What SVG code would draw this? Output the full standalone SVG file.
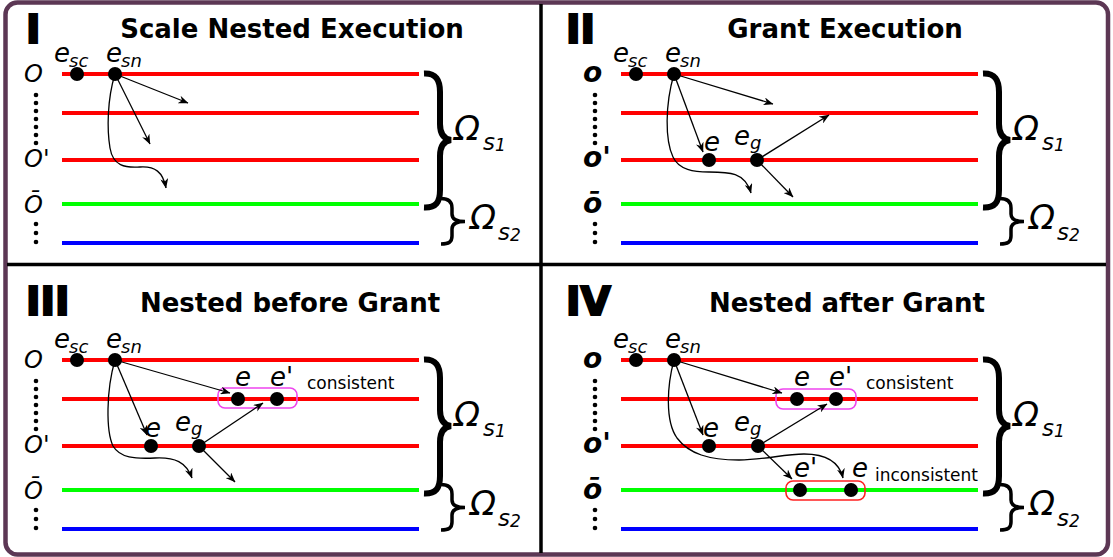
<svg xmlns="http://www.w3.org/2000/svg" width="1113" height="557" viewBox="0 0 1113 557">
<style>
.lane{stroke-width:4;fill:none}
.red{stroke:#ff0000}.green{stroke:#00ff00}.blue{stroke:#0000ff}
.dot{fill:#000}
.sdot{fill:#000}
.arr{fill:none;stroke:#000;stroke-width:1.3;marker-end:url(#ah)}
.lbl{font-family:"DejaVu Sans",sans-serif;font-style:italic;font-size:26px;fill:#000}
.sub{font-size:18px}
.title{font-family:"DejaVu Sans",sans-serif;font-weight:bold;font-size:26px;text-anchor:middle;fill:#000}
.num{font-family:"DejaVu Sans",sans-serif;font-weight:bold;font-size:39px;fill:#000;stroke:#000;stroke-width:2.2}
.side{font-family:"DejaVu Sans",sans-serif;font-style:italic;font-size:24px;fill:#000}
.sideb{font-family:"DejaVu Sans",sans-serif;font-style:italic;font-weight:bold;font-size:28px;fill:#000}
.bigbrace{fill:none;stroke:#000;stroke-width:6}
.smallbrace{fill:none;stroke:#000;stroke-width:3.5}
.omega{font-family:"DejaVu Sans",sans-serif;font-style:italic;font-size:34px;fill:#000}
.note{font-family:"DejaVu Sans",sans-serif;font-size:17px;fill:#000}
.mbox{fill:none;stroke:#ee44ee;stroke-width:1.6}
.rbox{fill:none;stroke:#ff2020;stroke-width:1.6}
.div{stroke:#000;stroke-width:3.5}
</style>
<defs>
<marker id="ah" viewBox="0 0 10 8" refX="9.5" refY="4" markerWidth="10" markerHeight="8" markerUnits="userSpaceOnUse" orient="auto"><path d="M0,0 L10,4 L0,8 L3,4 Z" fill="#000"/></marker>
<g id="lanes">
<line class="lane red" x1="62" y1="74" x2="419" y2="74"/>
<line class="lane red" x1="62" y1="113" x2="419" y2="113"/>
<line class="lane red" x1="62" y1="160" x2="419" y2="160"/>
<line class="lane green" x1="62" y1="204" x2="419" y2="204"/>
<line class="lane blue" x1="62" y1="243" x2="419" y2="243"/>
</g>
<g id="vdots">
<circle class="sdot" cx="36" cy="95" r="2.3"/><circle class="sdot" cx="36" cy="103" r="2.3"/><circle class="sdot" cx="36" cy="111" r="2.3"/><circle class="sdot" cx="36" cy="119" r="2.3"/><circle class="sdot" cx="36" cy="127" r="2.3"/><circle class="sdot" cx="36" cy="135" r="2.3"/><circle class="sdot" cx="36" cy="143" r="2.3"/>
<circle class="sdot" cx="36" cy="224" r="2.3"/><circle class="sdot" cx="36" cy="233" r="2.3"/><circle class="sdot" cx="36" cy="242" r="2.3"/>
</g>
<g id="braces">
<path class="bigbrace" d="M424,73.5 C436,73 440,80 440,92 L440,124 C440,134 444,139 451,140 C444,141 440,146 440,156 L440,190 C440,202 436,208 424,207.5"/>
<path class="smallbrace" d="M441,198.5 C449,198.5 452,202 452,208 L452,214 C452,219 456,221.5 465,221.5 C456,221.5 452,224 452,229 L452,236 C452,242 449,244 441,244"/>
<text class="omega" x="454" y="140">Ω<tspan font-size="23" x="483" y="150">s</tspan><tspan font-size="17" x="495" y="151">1</tspan></text>
<text class="omega" x="470" y="229">Ω<tspan font-size="23" x="498" y="240">s</tspan><tspan font-size="17" x="510" y="241">2</tspan></text>
</g>
</defs>

<rect x="0" y="0" width="1113" height="557" fill="#ffffff"/>
<rect x="5.5" y="2.5" width="1102.5" height="552" rx="12" ry="12" fill="#ffffff" stroke="#5c3754" stroke-width="4.5"/>
<line class="div" x1="541" y1="4" x2="541" y2="553"/>
<line class="div" x1="7" y1="264.5" x2="1106" y2="264.5"/>

<!-- Panel I -->
<g id="panel1">
<text class="num" x="26" y="43">I</text>
<text class="title" x="292" y="38">Scale Nested Execution</text>
<use href="#lanes"/>
<use href="#vdots"/>
<text class="side" x="24" y="82">O</text>
<text class="side" x="24" y="167">O'</text>
<text class="side" x="24" y="213">Ō</text>
<use href="#braces"/>
<g id="p1-connectors">
<path class="arr" d="M115,74 L188,103"/>
<path class="arr" d="M115,74 L150,144"/>
<path class="arr" d="M115,74 C107,100 107,130 110,148 C113,166 125,168 140,167 C155,166 163,172 166,188"/>
</g>
<g id="p1-esc"><circle class="dot" cx="77" cy="74" r="7"/><text class="lbl" x="54" y="62">e<tspan class="sub" x="69" y="67">sc</tspan></text></g>
<g id="p1-esn"><circle class="dot" cx="115" cy="74" r="7"/><text class="lbl" x="106" y="62">e<tspan class="sub" x="121" y="67">sn</tspan></text></g>
</g>

<!-- Panel II -->
<g id="panel2">
<text class="num" x="566" y="43">II</text>
<text class="title" x="845" y="38">Grant Execution</text>
<g transform="translate(559,0)">
<use href="#lanes"/>
<use href="#vdots"/>
<text class="sideb" x="24" y="82">o</text>
<text class="sideb" x="24" y="167">o'</text>
<text class="sideb" x="24" y="213">ō</text>
<use href="#braces"/>
<g id="p2-connectors">
<path class="arr" d="M115,74 L214,104"/>
<path class="arr" d="M115,74 L144,152"/>
<path class="arr" d="M115,74 C106,105 106,140 114,157 C120,170 135,172 150,172 C170,172 186,172 192,193"/>
<path class="arr" d="M198,160 L270,115"/>
<path class="arr" d="M198,160 L234,197"/>
</g>
<g id="p2-esc"><circle class="dot" cx="77" cy="74" r="7"/><text class="lbl" x="54" y="62">e<tspan class="sub" x="69" y="67">sc</tspan></text></g>
<g id="p2-esn"><circle class="dot" cx="115" cy="74" r="7"/><text class="lbl" x="106" y="62">e<tspan class="sub" x="121" y="67">sn</tspan></text></g>
<g id="p2-e"><circle class="dot" cx="150" cy="160" r="7"/><text class="lbl" x="145" y="151">e</text></g>
<g id="p2-eg"><circle class="dot" cx="198" cy="160" r="7"/><text class="lbl" x="175" y="145">e<tspan class="sub" x="191" y="149">g</tspan></text></g>
</g>
</g>

<!-- Panel III -->
<g id="panel3">
<text class="num" x="26" y="315">III</text>
<text class="title" x="290" y="312">Nested before Grant</text>
<g transform="translate(0,286)">
<use href="#lanes"/>
<use href="#vdots"/>
<text class="side" x="24" y="82">O</text>
<text class="side" x="24" y="167">O'</text>
<text class="side" x="24" y="213">Ō</text>
<use href="#braces"/>
<g id="p3-group-consistent"><rect class="mbox" x="218" y="102" width="79" height="20" rx="7"/><text class="note" x="307" y="103">consistent</text></g>
<g id="p3-connectors">
<path class="arr" d="M115,74 L230,107"/>
<path class="arr" d="M115,74 L147,149"/>
<path class="arr" d="M115,74 C106,105 106,145 113,160 C120,172 135,173 155,172 C175,171 186,176 192,192"/>
<path class="arr" d="M199,160 L263,117"/>
<path class="arr" d="M199,160 L235,196"/>
</g>
<g id="p3-esc"><circle class="dot" cx="77" cy="74" r="7"/><text class="lbl" x="54" y="62">e<tspan class="sub" x="69" y="67">sc</tspan></text></g>
<g id="p3-esn"><circle class="dot" cx="115" cy="74" r="7"/><text class="lbl" x="106" y="62">e<tspan class="sub" x="121" y="67">sn</tspan></text></g>
<g id="p3-e1"><circle class="dot" cx="238" cy="113" r="7"/><text class="lbl" x="235" y="100">e</text></g>
<g id="p3-e1p"><circle class="dot" cx="277" cy="113" r="7"/><text class="lbl" x="270" y="100">e'</text></g>
<g id="p3-e"><circle class="dot" cx="151" cy="160" r="7"/><text class="lbl" x="145" y="151">e</text></g>
<g id="p3-eg"><circle class="dot" cx="199" cy="160" r="7"/><text class="lbl" x="175" y="145">e<tspan class="sub" x="191" y="149">g</tspan></text></g>
</g>
</g>

<!-- Panel IV -->
<g id="panel4">
<text class="num" x="566" y="315">IV</text>
<text class="title" x="847" y="312">Nested after Grant</text>
<g transform="translate(559,286)">
<use href="#lanes"/>
<use href="#vdots"/>
<text class="sideb" x="24" y="82">o</text>
<text class="sideb" x="24" y="167">o'</text>
<text class="sideb" x="24" y="213">ō</text>
<use href="#braces"/>
<g id="p4-group-consistent"><rect class="mbox" x="217" y="103" width="80" height="20" rx="7"/><text class="note" x="307" y="103">consistent</text></g>
<g id="p4-group-inconsistent"><rect class="rbox" x="227" y="195" width="79" height="19" rx="7"/><text class="note" x="316" y="195">inconsistent</text></g>
<g id="p4-connectors">
<path class="arr" d="M115,74 L223,107"/>
<path class="arr" d="M115,74 L144,149"/>
<path class="arr" d="M115,74 C108,100 106,135 118,152 C130,168 150,174 180,174 C205,174 225,168 245,168 C265,168 280,175 284,192"/>
<path class="arr" d="M199,160 L268,118"/>
<path class="arr" d="M199,160 L233,193"/>
</g>
<g id="p4-esc"><circle class="dot" cx="77" cy="74" r="7"/><text class="lbl" x="54" y="62">e<tspan class="sub" x="69" y="67">sc</tspan></text></g>
<g id="p4-esn"><circle class="dot" cx="115" cy="74" r="7"/><text class="lbl" x="106" y="62">e<tspan class="sub" x="121" y="67">sn</tspan></text></g>
<g id="p4-e1"><circle class="dot" cx="238" cy="113" r="7"/><text class="lbl" x="235" y="100">e</text></g>
<g id="p4-e1p"><circle class="dot" cx="277" cy="113" r="7"/><text class="lbl" x="270" y="100">e'</text></g>
<g id="p4-e"><circle class="dot" cx="150" cy="160" r="7"/><text class="lbl" x="144" y="151">e</text></g>
<g id="p4-eg"><circle class="dot" cx="199" cy="160" r="7"/><text class="lbl" x="175" y="145">e<tspan class="sub" x="191" y="149">g</tspan></text></g>
<g id="p4-e2p"><circle class="dot" cx="241" cy="204" r="7"/><text class="lbl" x="235" y="191">e'</text></g>
<g id="p4-e2"><circle class="dot" cx="292" cy="204" r="7"/><text class="lbl" x="293" y="191">e</text></g>
</g>
</g>
</svg>
